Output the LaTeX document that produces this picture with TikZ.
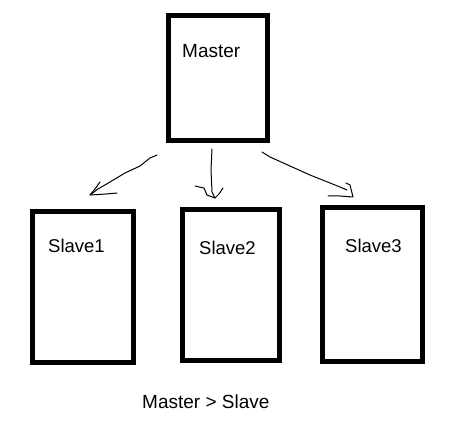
\documentclass[tikz,border=0pt]{standalone}
\usepackage{fontspec}
\setmainfont{Liberation Sans}
\begin{document}
\begin{tikzpicture}[x=1pt,y=-1pt,
  box/.style={draw=black,line width=5pt,fill=white},
  lbl/.style={anchor=west,inner sep=0pt,font=\fontsize{18.5}{22}\selectfont},
  hand/.style={draw=black,line width=1pt,line cap=round,line join=round}]
\useasboundingbox[fill=white] (0,0) rectangle (450,422);
% boxes
\draw[box] (168.5,15.5) rectangle (267.5,140.5);
\draw[box] (32.5,211.5) rectangle (133.5,362.5);
\draw[box] (182.5,209.5) rectangle (279.5,360.5);
\draw[box] (322.5,207.5) rectangle (422.5,361.5);
% labels
\node[lbl,font=\fontsize{19}{22}\selectfont] (master) at (182,51) {Master};
\node[lbl] (s1) at (48,246) {Slave1};
\node[lbl] (s2) at (199,248) {Slave2};
\node[lbl] (s3) at (345,246) {Slave3};
\node[lbl,font=\fontsize{19}{22}\selectfont] (cap) at (142,402) {Master > Slave};
% hand-drawn arrows
\coordinate (a1s) at (157,155);
\coordinate (a1t) at (90,195);
\coordinate (a2s) at (212,149);
\coordinate (a2t) at (215,198);
\coordinate (a3s) at (262,152);
\coordinate (a3t) at (353,197);
\draw[hand] (a1s) -- (150,158) -- (140,166) -- (125,173) -- (110,182) -- (98,189) -- (a1t);
\draw[hand] (100,182) -- (95,189) -- (a1t) -- (106,194) -- (117,193);
\draw[hand] (a2s) -- (211,170) -- (212,192) -- (a2t);
\draw[hand] (195,186) -- (204,188) -- (207,195) -- (a2t) -- (219,194) -- (223,188);
\draw[hand] (a3s) -- (270,157) -- (290,166) -- (310,175) -- (325,181) -- (340,187) -- (347,190);
\draw[hand] (346,183) -- (350,185) -- (a3t) -- (340,196) -- (328,196);
\end{tikzpicture}
\end{document}
